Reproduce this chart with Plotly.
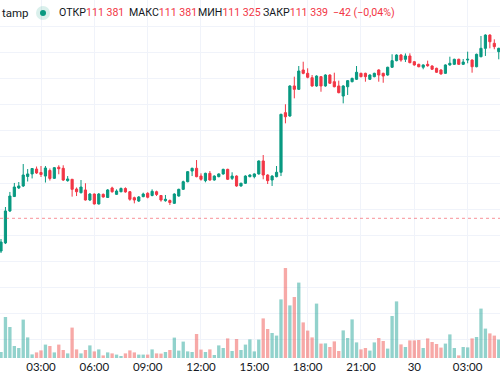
import plotly.graph_objects as go
import pandas as pd

# ---------------- data (BTC/USD, Bitstamp, 15-minute candles) ----------------
start_time = "2025-09-29 00:45"
bar_minutes = 15

opens = [109600, 109677, 109983, 110121, 110203, 110222, 110313, 110337, 110384, 110351,
         110317, 110370, 110295, 110401, 110391, 110273, 110286, 110193, 110158, 110184,
         110088, 110145, 110050, 110142, 110112, 110203, 110142, 110167, 110198, 110167,
         110110, 110078, 110120, 110152, 110131, 110167, 110131, 110081, 110083, 110056,
         110126, 110190, 110263, 110365, 110391, 110317, 110273, 110343, 110279, 110311,
         110337, 110381, 110295, 110317, 110222, 110248, 110311, 110311, 110337, 110461,
         110327, 110279, 110311, 110353, 110923, 110891, 111178, 111146, 111331, 111299,
         111257, 111178, 111267, 111178, 111283, 111219, 111178, 111082, 111171, 111219,
         111242, 111299, 111299, 111242, 111267, 111331, 111299, 111283, 111357, 111420,
         111474, 111433, 111465, 111410, 111385, 111357, 111385, 111369, 111347, 111331,
         111299, 111379, 111385, 111433, 111385, 111426, 111426, 111362, 111458, 111538,
         111665, 111586, 111506]
highs = [109715, 110021, 110165, 110251, 110260, 110432, 110384, 110394, 110408, 110413,
         110413, 110389, 110403, 110420, 110420, 110317, 110289, 110208, 110279, 110248,
         110155, 110150, 110155, 110150, 110193, 110215, 110190, 110208, 110209, 110174,
         110120, 110126, 110158, 110162, 110190, 110177, 110136, 110136, 110093, 110152,
         110196, 110273, 110365, 110397, 110470, 110343, 110349, 110365, 110324, 110343,
         110387, 110387, 110353, 110324, 110253, 110324, 110334, 110343, 110467, 110518,
         110334, 110324, 110413, 110913, 111003, 111185, 111267, 111369, 111410, 111347,
         111283, 111280, 111273, 111290, 111290, 111305, 111229, 111185, 111235, 111257,
         111369, 111305, 111305, 111290, 111305, 111338, 111305, 111362, 111481, 111481,
         111484, 111489, 111490, 111417, 111391, 111385, 111420, 111376, 111353, 111338,
         111385, 111458, 111439, 111439, 111436, 111506, 111433, 111487, 111656, 111672,
         111672, 111624, 111544]
lows = [109581, 109667, 109973, 110117, 110193, 110212, 110265, 110294, 110337, 110308,
        110255, 110274, 110289, 110334, 110270, 110263, 110120, 110126, 110150, 110083,
        110078, 110045, 110045, 110110, 110107, 110158, 110136, 110162, 110158, 110081,
        110056, 110069, 110114, 110104, 110123, 110126, 110072, 110072, 110040, 110050,
        110120, 110184, 110257, 110317, 110305, 110273, 110257, 110273, 110273, 110305,
        110330, 110279, 110279, 110215, 110215, 110241, 110305, 110295, 110330, 110286,
        110241, 110222, 110305, 110317, 110821, 110884, 111060, 111140, 111290, 111251,
        111171, 111171, 111123, 111171, 111197, 111165, 111108, 111012, 111092, 111213,
        111235, 111261, 111219, 111235, 111261, 111219, 111209, 111276, 111350, 111414,
        111410, 111407, 111395, 111372, 111357, 111338, 111362, 111331, 111302, 111286,
        111293, 111372, 111379, 111379, 111379, 111395, 111305, 111357, 111452, 111465,
        111538, 111529, 111433]
closes = [109686, 109983, 110126, 110212, 110222, 110327, 110337, 110389, 110346, 110332,
          110394, 110294, 110397, 110387, 110279, 110289, 110190, 110167, 110212, 110088,
          110145, 110050, 110145, 110117, 110184, 110167, 110174, 110198, 110165, 110095,
          110088, 110117, 110145, 110114, 110171, 110141, 110088, 110095, 110064, 110145,
          110190, 110263, 110359, 110391, 110311, 110286, 110343, 110279, 110317, 110337,
          110381, 110286, 110317, 110222, 110248, 110317, 110327, 110337, 110461, 110327,
          110273, 110317, 110353, 110907, 110884, 111178, 111146, 111321, 111299, 111261,
          111178, 111273, 111178, 111283, 111204, 111171, 111114, 111178, 111229, 111251,
          111309, 111267, 111267, 111283, 111299, 111283, 111273, 111357, 111420, 111474,
          111426, 111465, 111401, 111379, 111362, 111379, 111372, 111338, 111309, 111293,
          111379, 111395, 111433, 111385, 111407, 111433, 111362, 111481, 111538, 111665,
          111601, 111554, 111538]
volumes = [3.0, 20.5, 15.5, 6.0, 5.0, 19.2, 10.3, 1.8, 2.8, 3.8,
           6.7, 6.0, 2.8, 6.7, 4.0, 2.3, 15.2, 4.3, 2.3, 4.0,
           6.3, 3.3, 4.3, 1.3, 2.8, 2.3, 1.7, 1.0, 2.3, 3.8,
           2.8, 1.7, 1.7, 1.7, 4.3, 2.3, 2.2, 3.0, 4.0, 10.2,
           3.7, 8.2, 3.3, 3.0, 12.0, 4.2, 3.0, 4.3, 1.5, 6.3,
           5.0, 9.8, 3.5, 9.5, 4.0, 6.7, 9.3, 3.3, 9.2, 19.8,
           14.5, 12.5, 11.2, 29.3, 45.0, 26.3, 30.5, 37.7, 17.8, 13.7,
           10.3, 27.2, 7.2, 7.3, 5.5, 8.3, 3.5, 13.8, 10.0, 19.3,
           7.8, 4.3, 5.0, 3.7, 7.8, 10.0, 8.5, 4.7, 21.0, 28.3,
           6.8, 5.5, 8.8, 8.8, 9.0, 5.0, 9.8, 8.0, 7.0, 5.2,
           7.2, 11.8, 5.0, 1.3, 5.5, 5.3, 9.8, 10.5, 24.7, 14.7,
           12.3, 11.2, 9.2]
prev_close_line = 109913

tick_times = ["2025-09-29 03:00", "2025-09-29 06:00", "2025-09-29 09:00", "2025-09-29 12:00",
              "2025-09-29 15:00", "2025-09-29 18:00", "2025-09-29 21:00", "2025-09-30 00:00",
              "2025-09-30 03:00"]
tick_labels = ["03:00", "06:00", "09:00", "12:00", "15:00", "18:00", "21:00", "30", "03:00"]

legend_exchange = "tamp"
legend_labels = ["ОТКР", "МАКС", "МИН", "ЗАКР"]
legend_values = ["111 381", "111 381", "111 325", "111 339"]
legend_change = "−42 (−0,04%)"

# ---------------- styling ----------------
W, H = 500, 389
PLOT_BOTTOM = 358
UP, DOWN = "#089981", "#F23645"
VOL_UP, VOL_DOWN = "rgba(38,166,154,0.5)", "rgba(239,83,80,0.5)"
GRID = "#f0f3fa"
TEXT = "#131722"
LEG_FONT = "Roboto"
LEG_SIZE = 10.6
TICK_FONT = "Lato"

times = pd.date_range(start_time, periods=len(opens), freq=f"{bar_minutes}min")
step = pd.Timedelta(minutes=bar_minutes)
x_range = [times[0] - step * 0.225, times[0] + step * 112.28]

vol_colors = [VOL_UP if c >= o else VOL_DOWN for o, c in zip(opens, closes)]

fig = go.Figure()
fig.add_trace(go.Bar(x=times, y=volumes, marker=dict(color=vol_colors, line=dict(width=0)),
                     yaxis="y2", hoverinfo="skip", showlegend=False))
fig.add_trace(go.Candlestick(
    x=times, open=opens, high=highs, low=lows, close=closes,
    increasing=dict(line=dict(color=UP, width=1), fillcolor=UP),
    decreasing=dict(line=dict(color=DOWN, width=1), fillcolor=DOWN),
    whiskerwidth=0, showlegend=False, yaxis="y"))

fig.add_hline(y=prev_close_line, line=dict(color="rgba(242,54,69,0.55)", width=1, dash="dot"))

plot_h = PLOT_BOTTOM
def py(px_y):
    return (plot_h - px_y) / plot_h

def pxx(px_x):
    return px_x / W

# legend row
LEG_Y = 13
fig.add_annotation(x=pxx(0), y=py(LEG_Y), xref="paper", yref="paper", text=legend_exchange,
                   showarrow=False, xanchor="left", yanchor="middle",
                   font=dict(family=LEG_FONT, size=11.5, color=TEXT))
fig.add_shape(type="circle", xref="paper", yref="paper", xsizemode="pixel", ysizemode="pixel",
              xanchor=pxx(43), yanchor=py(LEG_Y), x0=-7, x1=7, y0=-7, y1=7,
              fillcolor="rgba(8,153,129,0.15)", line=dict(width=0))
fig.add_shape(type="circle", xref="paper", yref="paper", xsizemode="pixel", ysizemode="pixel",
              xanchor=pxx(43), yanchor=py(LEG_Y), x0=-3, x1=3, y0=-3, y1=3,
              fillcolor=UP, line=dict(width=0))
pair_x = [57, 127, 196, 261]
for lab, val, lx in zip(legend_labels, legend_values, pair_x):
    fig.add_annotation(x=pxx(lx), y=py(LEG_Y), xref="paper", yref="paper",
                       text=f"{lab}<span style='color:{DOWN}'>{val}</span>",
                       showarrow=False, xanchor="left", yanchor="middle",
                       font=dict(family=LEG_FONT, size=LEG_SIZE, color=TEXT))
fig.add_annotation(x=pxx(331), y=py(LEG_Y), xref="paper", yref="paper", text=legend_change,
                   showarrow=False, xanchor="left", yanchor="middle",
                   font=dict(family=LEG_FONT, size=LEG_SIZE, color=DOWN))

price_lo = 112000 - 9.56 * PLOT_BOTTOM
fig.update_layout(
    width=W, height=H,
    margin=dict(l=0, r=0, t=0, b=H - PLOT_BOTTOM),
    paper_bgcolor="white", plot_bgcolor="white",
    bargap=0.25,
    showlegend=False,
    xaxis=dict(type="date", range=x_range, rangeslider=dict(visible=False),
               tickvals=pd.to_datetime(tick_times), ticktext=tick_labels,
               showgrid=True, gridcolor=GRID, gridwidth=1, zeroline=False,
               showline=False, ticks="", tickfont=dict(family=TICK_FONT, size=11.5, color=TEXT)),
    yaxis=dict(range=[price_lo, 112000], dtick=250, tick0=0, showgrid=True, gridcolor=GRID,
               gridwidth=1, showticklabels=False, zeroline=False, fixedrange=True),
    yaxis2=dict(range=[0, PLOT_BOTTOM * 0.5], overlaying="y", showgrid=False,
                showticklabels=False, zeroline=False),
)

fig.write_html("out.html", config={"displayModeBar": False},
               post_script="document.body.style.margin='0';")
